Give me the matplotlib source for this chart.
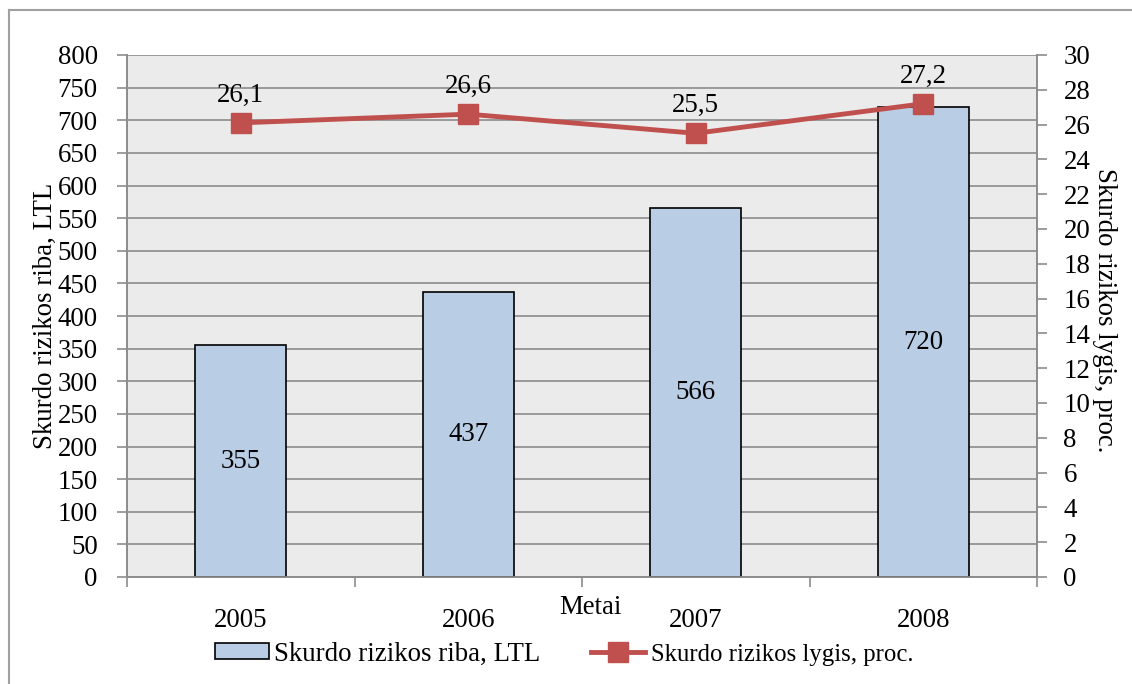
import numpy as np
import matplotlib.pyplot as plt
from matplotlib.lines import Line2D

plt.rcParams['font.family'] = ['Liberation Serif', 'DejaVu Serif']

years = ['2005', '2006', '2007', '2008']
riba = [355, 437, 566, 720]          # Skurdo rizikos riba, LTL
lygis = [26.1, 26.6, 25.5, 27.2]     # Skurdo rizikos lygis, proc.
riba_labels = ['355', '437', '566', '720']
lygis_labels = ['26,1', '26,6', '25,5', '27,2']

FS = 19.4
GRAY = '#8c8c8c'
BAR = '#b9cde5'
RED = '#c0504d'

fig = plt.figure(figsize=(11.32, 6.84), dpi=100)
ax = fig.add_axes([127 / 1132, 1 - 577 / 684, 910 / 1132, 522 / 684])
ax.set_facecolor('#ebebeb')

x = np.arange(len(years))
ax.bar(x, riba, width=0.4, color=BAR, edgecolor='black', linewidth=1.2, zorder=3)
for xi, v, t in zip(x, riba, riba_labels):
    ax.text(xi, v / 2, t, ha='center', va='center', fontsize=FS, zorder=5)

ax.set_xlim(-0.5, len(years) - 0.5)
ax.set_ylim(0, 800)
ax.set_yticks(np.arange(0, 801, 50))
ax.yaxis.grid(True, color=GRAY, linewidth=1.2, zorder=0)
ax.set_axisbelow(True)
ax.set_xticks(x)
ax.set_xticklabels(years)
ax.set_xticks(np.arange(-0.5, len(years), 1), minor=True)
ax.tick_params(axis='x', which='major', length=0, pad=22, labelsize=FS)
ax.tick_params(axis='x', which='minor', length=7, width=1.2, color=GRAY)
ax.tick_params(axis='y', length=7, width=1.2, color=GRAY, pad=14, labelsize=FS)
for s in ax.spines.values():
    s.set_color(GRAY)
    s.set_linewidth(1.2)
ax.spines['top'].set_visible(False)

ax2 = ax.twinx()
ax2.plot(x, lygis, color=RED, linewidth=3.5, marker='s', markersize=14, zorder=4)
for xi, v, t in zip(x, lygis, lygis_labels):
    ax2.annotate(t, (xi, v), xytext=(0, 20), textcoords='offset points',
                 ha='center', va='center', fontsize=FS)
ax2.set_ylim(0, 30)
ax2.set_yticks(np.arange(0, 31, 2))
ax2.tick_params(axis='y', length=7, width=1.2, color=GRAY, pad=12, labelsize=FS)
for s in ax2.spines.values():
    s.set_color(GRAY)
    s.set_linewidth(1.2)
ax2.spines['top'].set_visible(False)

# axis titles
fig.text(45 / 1132, 1 - 316 / 684, 'Skurdo rizikos riba, LTL', fontsize=FS,
         rotation=90, ha='center', va='center')
fig.text(1105 / 1132, 1 - 310 / 684, 'Skurdo rizikos lygis, proc.', fontsize=FS,
         rotation=-90, ha='center', va='center')
fig.text(590 / 1132, 1 - 607 / 684, 'Metai', fontsize=FS, ha='center', va='center')

handles = [plt.Rectangle((0, 0), 1, 1, facecolor=BAR, edgecolor='black', linewidth=1.2),
           Line2D([], [], color=RED, linewidth=3.5, marker='s', markersize=14)]
leg = fig.legend(handles, ['Skurdo rizikos riba, LTL', 'Skurdo rizikos lygis, proc.'],
                 loc='center', bbox_to_anchor=(564 / 1132, 1 - 654 / 684), ncol=2,
                 frameon=False, fontsize=FS, handlelength=2.0, handleheight=0.5,
                 handletextpad=0.2, columnspacing=1.9, numpoints=1)
leg.get_texts()[1].set_fontsize(17.8)

# chart border
fig.add_artist(Line2D([9 / 1132, 9 / 1132], [0, 1 - 10 / 684], color='#a0a0a0',
                      linewidth=1.5, transform=fig.transFigure))
fig.add_artist(Line2D([9 / 1132, 1], [1 - 10 / 684, 1 - 10 / 684], color='#a0a0a0',
                      linewidth=1.5, transform=fig.transFigure))

fig.savefig('out.png', dpi=100)
